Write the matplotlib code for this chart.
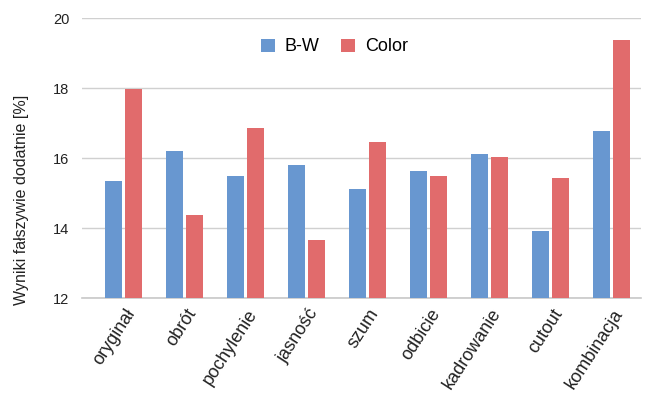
import matplotlib.pyplot as plt
import matplotlib.transforms as mtransforms
import numpy as np

plt.rcParams['font.family'] = ['Liberation Sans', 'DejaVu Sans']

categories = ['oryginał', 'obrót', 'pochylenie', 'jasność', 'szum',
              'odbicie', 'kadrowanie', 'cutout', 'kombinacja']
bw_values = [15.34, 16.20, 15.49, 15.80, 15.11, 15.63, 16.11, 13.91, 16.77]
color_values = [17.97, 14.37, 16.86, 13.66, 16.46, 15.49, 16.03, 15.43, 19.37]
y_ticks = [12, 14, 16, 18, 20]

fig = plt.figure(figsize=(6.49, 3.94), dpi=100)
ax = fig.add_axes([82 / 649, 1 - 298 / 394, 559 / 649, 280 / 394])

x = np.arange(len(categories))
w = 0.28
ax.bar(x - 0.165, bw_values, w, color='#6897d0', label='B-W', zorder=3)
ax.bar(x + 0.165, color_values, w, color='#e16b6c', label='Color', zorder=3)

ax.set_ylim(12, 20)
ax.set_xlim(-0.68, 8.48)
ax.set_yticks(y_ticks)
ax.set_yticklabels([str(t) for t in y_ticks], fontsize=10.5, color='#222222')
ax.tick_params(axis='y', length=0, pad=9)
ax.tick_params(axis='x', length=0, pad=4)
ax.set_xticks(x)
ax.set_xticklabels(categories, rotation=57, ha='right', va='center',
                   rotation_mode='anchor', fontsize=13, color='#222222')
# nudge category labels right and down
shift = mtransforms.ScaledTranslation(8 / 100, -7 / 100, fig.dpi_scale_trans)
for lbl in ax.get_xticklabels():
    lbl.set_transform(lbl.get_transform() + shift)

ax.grid(axis='y', color='#d0d0d0', linewidth=1, zorder=0)
for s in ['top', 'right', 'left']:
    ax.spines[s].set_visible(False)
ax.spines['bottom'].set_color('#c8c8c8')
ax.spines['bottom'].set_linewidth(1.2)

ax.set_ylabel('Wyniki fałszywie dodatnie [%]', fontsize=11.5, color='#222222')
ax.yaxis.set_label_coords(-0.095, 0.35)

ax.legend(loc='upper center', bbox_to_anchor=(0.452, 0.985), ncol=2, frameon=False,
          fontsize=13, handlelength=0.75, handleheight=0.75, columnspacing=1.2,
          handletextpad=0.55)

fig.savefig('out.png', dpi=100)
